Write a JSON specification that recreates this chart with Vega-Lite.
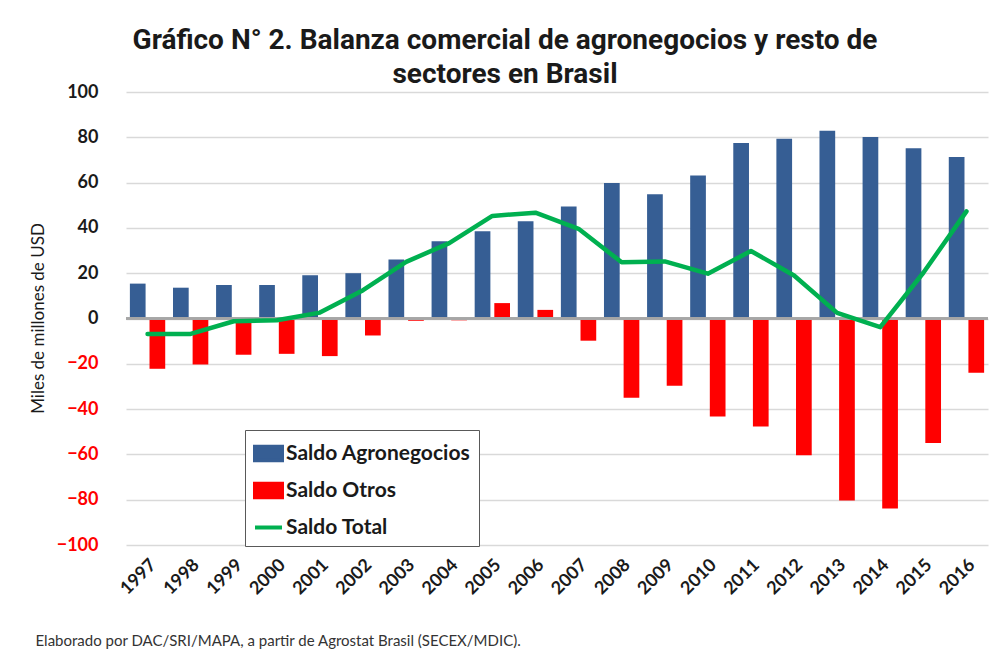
{
  "$schema": "https://vega.github.io/schema/vega-lite/v6.json",
  "autosize": "none",
  "width": 862,
  "height": 453,
  "padding": {"left": 126, "top": 92, "right": 4, "bottom": 112},
  "background": "white",
  "title": {
    "text": ["Gráfico N° 2. Balanza comercial de agronegocios y resto de", "sectores en Brasil"],
    "font": "Roboto",
    "fontSize": 28,
    "fontWeight": "bold",
    "color": "#1a1a1a",
    "anchor": "middle",
    "dx": -52,
    "lineHeight": 34,
    "offset": -6
  },
  "config": {
    "view": {"stroke": null},
    "font": "Lato"
  },
  "data": {
    "values": [
      {"year": "1997", "serie": "Saldo Agronegocios", "value": 15.4},
      {"year": "1998", "serie": "Saldo Agronegocios", "value": 13.6},
      {"year": "1999", "serie": "Saldo Agronegocios", "value": 14.8},
      {"year": "2000", "serie": "Saldo Agronegocios", "value": 14.8},
      {"year": "2001", "serie": "Saldo Agronegocios", "value": 19.1},
      {"year": "2002", "serie": "Saldo Agronegocios", "value": 20.0},
      {"year": "2003", "serie": "Saldo Agronegocios", "value": 26.0},
      {"year": "2004", "serie": "Saldo Agronegocios", "value": 34.1},
      {"year": "2005", "serie": "Saldo Agronegocios", "value": 38.5},
      {"year": "2006", "serie": "Saldo Agronegocios", "value": 42.9},
      {"year": "2007", "serie": "Saldo Agronegocios", "value": 49.4},
      {"year": "2008", "serie": "Saldo Agronegocios", "value": 59.8},
      {"year": "2009", "serie": "Saldo Agronegocios", "value": 54.9},
      {"year": "2010", "serie": "Saldo Agronegocios", "value": 63.1},
      {"year": "2011", "serie": "Saldo Agronegocios", "value": 77.5},
      {"year": "2012", "serie": "Saldo Agronegocios", "value": 79.4},
      {"year": "2013", "serie": "Saldo Agronegocios", "value": 82.9},
      {"year": "2014", "serie": "Saldo Agronegocios", "value": 80.1},
      {"year": "2015", "serie": "Saldo Agronegocios", "value": 75.2},
      {"year": "2016", "serie": "Saldo Agronegocios", "value": 71.3},
      {"year": "1997", "serie": "Saldo Otros", "value": -22.2},
      {"year": "1998", "serie": "Saldo Otros", "value": -20.3},
      {"year": "1999", "serie": "Saldo Otros", "value": -16.0},
      {"year": "2000", "serie": "Saldo Otros", "value": -15.6},
      {"year": "2001", "serie": "Saldo Otros", "value": -16.6},
      {"year": "2002", "serie": "Saldo Otros", "value": -7.5},
      {"year": "2003", "serie": "Saldo Otros", "value": -1.0},
      {"year": "2004", "serie": "Saldo Otros", "value": -0.8},
      {"year": "2005", "serie": "Saldo Otros", "value": 6.8},
      {"year": "2006", "serie": "Saldo Otros", "value": 3.8},
      {"year": "2007", "serie": "Saldo Otros", "value": -9.8},
      {"year": "2008", "serie": "Saldo Otros", "value": -35.0},
      {"year": "2009", "serie": "Saldo Otros", "value": -29.7},
      {"year": "2010", "serie": "Saldo Otros", "value": -43.3},
      {"year": "2011", "serie": "Saldo Otros", "value": -47.7},
      {"year": "2012", "serie": "Saldo Otros", "value": -60.4},
      {"year": "2013", "serie": "Saldo Otros", "value": -80.4},
      {"year": "2014", "serie": "Saldo Otros", "value": -83.9},
      {"year": "2015", "serie": "Saldo Otros", "value": -55.0},
      {"year": "2016", "serie": "Saldo Otros", "value": -24.0},
      {"year": "1997", "serie": "Saldo Total", "value": -6.8},
      {"year": "1998", "serie": "Saldo Total", "value": -6.8},
      {"year": "1999", "serie": "Saldo Total", "value": -1.2},
      {"year": "2000", "serie": "Saldo Total", "value": -0.8},
      {"year": "2001", "serie": "Saldo Total", "value": 2.6},
      {"year": "2002", "serie": "Saldo Total", "value": 12.5},
      {"year": "2003", "serie": "Saldo Total", "value": 25.0},
      {"year": "2004", "serie": "Saldo Total", "value": 33.3},
      {"year": "2005", "serie": "Saldo Total", "value": 45.3},
      {"year": "2006", "serie": "Saldo Total", "value": 46.7},
      {"year": "2007", "serie": "Saldo Total", "value": 39.6},
      {"year": "2008", "serie": "Saldo Total", "value": 24.8},
      {"year": "2009", "serie": "Saldo Total", "value": 25.2},
      {"year": "2010", "serie": "Saldo Total", "value": 19.8},
      {"year": "2011", "serie": "Saldo Total", "value": 29.8},
      {"year": "2012", "serie": "Saldo Total", "value": 19.0},
      {"year": "2013", "serie": "Saldo Total", "value": 2.5},
      {"year": "2014", "serie": "Saldo Total", "value": -3.8},
      {"year": "2015", "serie": "Saldo Total", "value": 20.2},
      {"year": "2016", "serie": "Saldo Total", "value": 47.3}
    ]
  },
  "encoding": {
    "x": {
      "field": "year",
      "type": "nominal",
      "scale": {"paddingInner": 0.18, "paddingOuter": 0.09},
      "axis": {
        "title": "Elaborado por DAC/SRI/MAPA, a partir de Agrostat Brasil (SECEX/MDIC).",
        "titleFont": "Lato",
        "titleFontSize": 15,
        "titleFontWeight": "normal",
        "titleColor": "#333333",
        "titleAnchor": "start",
        "titleAlign": "left",
        "titleBaseline": "middle",
        "titleX": -91,
        "titleY": 95,
        "labelAngle": -45,
        "labelAlign": "right",
        "labelBaseline": "middle",
        "labelFont": "Lato",
        "labelFontSize": 18,
        "labelFontWeight": "bold",
        "labelColor": "#1a1a1a",
        "labelPadding": 17,
        "labelOffset": 6,
        "labelOverlap": false,
        "labelLimit": 200,
        "domain": false,
        "ticks": false,
        "grid": false
      }
    },
    "y": {
      "field": "value",
      "type": "quantitative",
      "scale": {"domain": [-100, 100], "nice": false},
      "axis": {
        "title": "Miles de millones de USD",
        "titleFont": "Lato",
        "titleFontSize": 17,
        "titleFontWeight": "normal",
        "titleColor": "#1a1a1a",
        "titleAngle": -90,
        "titleX": -88,
        "titleY": 226,
        "titleAlign": "center",
        "titleBaseline": "middle",
        "values": [-100, -80, -60, -40, -20, 0, 20, 40, 60, 80, 100],
        "labelFont": "Lato",
        "labelFontSize": 18,
        "labelFontWeight": "bold",
        "labelColor": {"condition": {"test": "datum.value < 0", "value": "#FF0000"}, "value": "#1a1a1a"},
        "labelPadding": 28,
        "domain": false,
        "ticks": false,
        "gridColor": "#D9D9D9",
        "gridWidth": 1.5
      }
    },
    "color": {
      "field": "serie",
      "type": "nominal",
      "scale": {
        "domain": ["Saldo Agronegocios", "Saldo Otros", "Saldo Total"],
        "range": ["#365E94", "#FF0000", "#00B050"]
      },
      "legend": {
        "title": null,
        "orient": "none",
        "legendX": 119,
        "legendY": 338,
        "direction": "vertical",
        "labelFont": "Lato",
        "labelFontSize": 21,
        "labelFontWeight": "bold",
        "labelColor": "#1a1a1a",
        "labelOffset": 2,
        "labelLimit": 400,
        "rowPadding": 6,
        "padding": 8,
        "strokeColor": "#595959",
        "fillColor": "white",
        "symbolSize": 729,
        "encode": {
          "symbols": {
            "update": {
              "shape": {"signal": "datum.value === 'Saldo Total' ? 'M-1,0H1' : 'M-1,-0.5H1V0.5H-1Z'"},
              "fill": {"signal": "datum.value === 'Saldo Total' ? 'transparent' : (datum.value === 'Saldo Agronegocios' ? '#365E94' : '#FF0000')"},
              "stroke": {"signal": "datum.value === 'Saldo Total' ? '#00B050' : 'transparent'"},
              "strokeWidth": {"value": 4},
              "opacity": {"value": 1}
            }
          }
        }
      }
    }
  },
  "layer": [
    {
      "transform": [{"filter": "datum.serie !== 'Saldo Total'"}],
      "mark": {"type": "bar", "opacity": 1},
      "encoding": {
        "xOffset": {
          "field": "serie",
          "type": "nominal",
          "scale": {"domain": ["Saldo Agronegocios", "Saldo Otros"], "paddingInner": 0.2}
        }
      }
    },
    {
      "mark": {"type": "rule", "color": "#A6A6A6", "strokeWidth": 1.5},
      "encoding": {"y": {"datum": 0}, "x": null, "color": null}
    },
    {
      "transform": [{"filter": "datum.serie === 'Saldo Total'"}],
      "mark": {"type": "line", "strokeWidth": 4.5, "strokeJoin": "round", "strokeCap": "round"}
    }
  ]
}
